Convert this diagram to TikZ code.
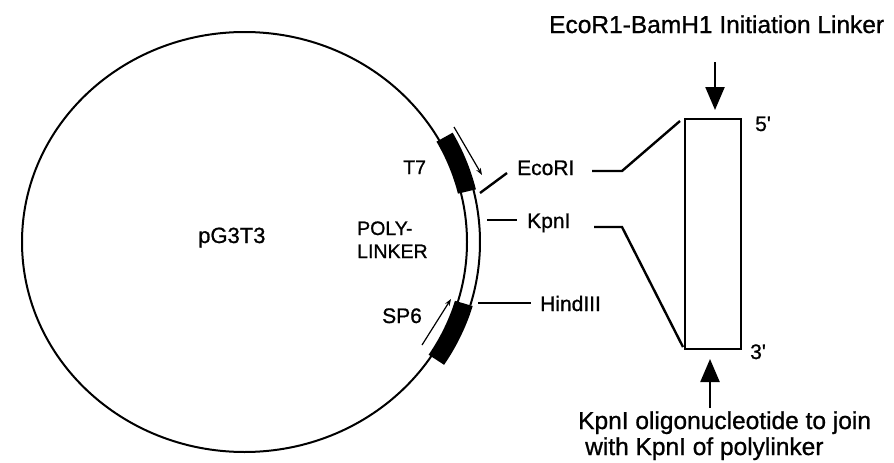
\documentclass[tikz,border=0pt]{standalone}
\usepackage{fontspec}
\setmainfont{Liberation Sans}[BoldFont={Liberation Sans}, BoldFeatures={FakeBold=0.9}]
\usetikzlibrary{arrows.meta}
\begin{document}
\begin{tikzpicture}[x=1pt,y=-1pt,
  lbl/.style={inner sep=0pt, anchor=base west, font=\bfseries\fontsize{21}{24}\selectfont},
  small/.style={inner sep=0pt, anchor=base west, font=\bfseries\fontsize{19.5}{22}\selectfont},
  big/.style={inner sep=0pt, anchor=base west, font=\bfseries\fontsize{24.5}{28}\selectfont},
  conn/.style={line width=2.4pt},
  ring/.style={line width=2pt},
  bigarrow/.style={line width=2.4pt, -{Triangle[width=19pt,length=23pt]}},
  thinarrow/.style={line width=1.2pt, -{Stealth[length=7pt,width=5pt]}}]
\useasboundingbox (0,0) rectangle (894,463);
\fill[white] (0,0) rectangle (894,463);

% plasmid ring
\draw[ring] (244.5,242) ellipse [x radius=222.5pt, y radius=210pt];
% polylinker band outer line
\draw[ring] plot[domain=-16.5:14, samples=30] ({244.5+235.5*cos(\x)},{242-223*sin(\x)});
% T7 bar
\fill plot[domain=13.5:29, samples=20] ({244.5+238*cos(\x)},{242-225.5*sin(\x)})
  -- plot[domain=29:13.5, samples=20] ({244.5+219.5*cos(\x)},{242-207*sin(\x)}) -- cycle;
% SP6 bar
\fill plot[domain=-16.5:-33, samples=20] ({244.5+238*cos(\x)},{242-225.5*sin(\x)})
  -- plot[domain=-33:-16.5, samples=20] ({244.5+219.5*cos(\x)},{242-207*sin(\x)}) -- cycle;

% promoter arrows
\coordinate (t7s) at (454,127); \coordinate (t7e) at (482,175);
\draw[thinarrow] (t7s) -- (t7e);
\coordinate (sp6s) at (422,345); \coordinate (sp6e) at (451,299);
\draw[thinarrow] (sp6s) -- (sp6e);

% labels inside ring
\node[lbl, font=\bfseries\fontsize{22}{26}\selectfont] (pg) at (198,243) {pG3T3};
\node[small] (t7) at (403,174) {T7};
\node[small] (poly) at (357,235) {POLY-};
\node[small] (lnk) at (357,258) {LINKER};
\node[lbl] (sp6) at (382,323) {SP6};

% site labels
\node[lbl] (eco) at (517,175) {EcoRI};
\node[lbl] (kpn) at (527,228) {KpnI};
\node[lbl] (hind) at (540,311) {HindIII};

\coordinate (ecoA) at (480,193); \coordinate (ecoB) at (507,173);
\draw[conn] (ecoA) -- (ecoB);
\coordinate (kpnA) at (487,220); \coordinate (kpnB) at (517,220);
\draw[conn] (kpnA) -- (kpnB);
\coordinate (hinA) at (478,303); \coordinate (hinB) at (531,303);
\draw[conn] (hinA) -- (hinB);

% linker box
\node[draw, line width=2.4pt, minimum width=56pt, minimum height=230pt, inner sep=0pt] (box) at (713,234) {};
\node[lbl] (five) at (755,131) {5\textquotesingle};
\node[lbl] (three) at (750,359) {3\textquotesingle};

\coordinate (e1) at (592,171); \coordinate (e2) at (622,171); \coordinate (e3) at (680,121);
\draw[conn] (e1) -- (e2) -- (e3);
\coordinate (k1) at (594,227); \coordinate (k2) at (622,227); \coordinate (k3) at (683,347);
\draw[conn] (k1) -- (k2) -- (k3);

% title and arrows
\node[big] (title) at (549,33) {EcoR1-BamH1 Initiation Linker};
\coordinate (ta) at (715,62); \coordinate (tb) at (715,110);
\draw[bigarrow] (ta) -- (tb);
\coordinate (ba) at (710,408); \coordinate (bb) at (710,359);
\draw[bigarrow] (ba) -- (bb);
\node[big] (bot1) at (578,429) {KpnI oligonucleotide to join};
\node[big] (bot2) at (585,455) {with KpnI of polylinker};
\end{tikzpicture}
\end{document}
